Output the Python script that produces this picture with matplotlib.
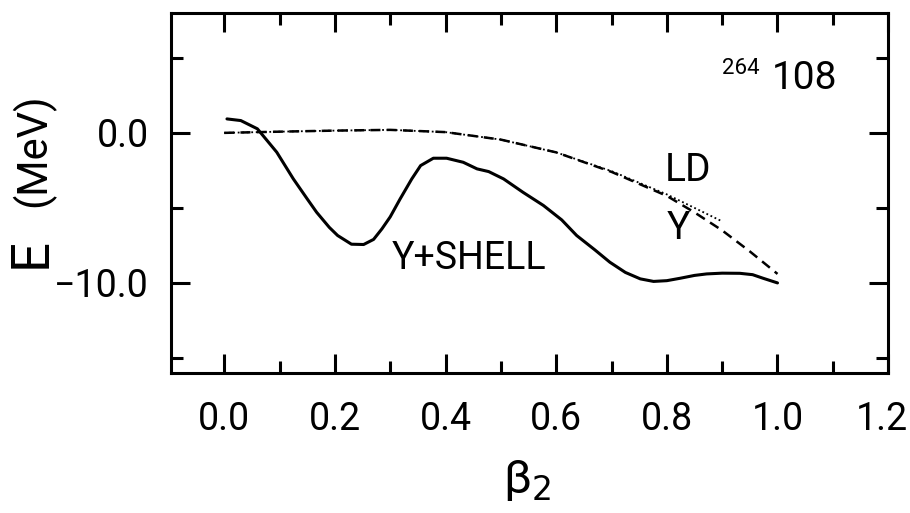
import matplotlib
matplotlib.use('Agg')
import matplotlib.pyplot as plt
import matplotlib.transforms as mtransforms

plt.rcParams['font.family'] = ['Roboto', 'DejaVu Sans']

# Y+SHELL curve (solid)
beta_shell = [0.005, 0.03, 0.06, 0.095, 0.125, 0.15, 0.167, 0.19, 0.205, 0.23, 0.252, 0.27,
              0.285, 0.3, 0.318, 0.339, 0.355, 0.378, 0.402, 0.432, 0.457, 0.478, 0.505,
              0.54, 0.577, 0.61, 0.637, 0.67, 0.697, 0.725, 0.752, 0.776, 0.8, 0.824,
              0.85, 0.872, 0.9, 0.932, 0.955, 0.974, 1.0]
e_shell = [0.93, 0.82, 0.27, -1.29, -3.07, -4.4, -5.29, -6.3, -6.84, -7.42, -7.44, -7.1,
           -6.4, -5.6, -4.4, -3.07, -2.18, -1.69, -1.69, -1.96, -2.4, -2.58, -3.07,
           -3.96, -4.84, -5.8, -6.84, -7.8, -8.62, -9.3, -9.73, -9.9, -9.85, -9.69,
           -9.5, -9.4, -9.35, -9.36, -9.45, -9.69, -10.0]

# LD curve (dashed)
beta_ld = [0.0, 0.1, 0.2, 0.3, 0.4, 0.5, 0.6, 0.7, 0.8, 0.85, 0.9, 0.95, 1.0]
e_ld = [0.0, 0.08, 0.15, 0.2, 0.05, -0.45, -1.3, -2.6, -4.2, -5.3, -6.5, -7.9, -9.4]

# Y curve (dotted)
beta_y = [0.0, 0.1, 0.2, 0.3, 0.4, 0.5, 0.6, 0.7, 0.8, 0.85, 0.9]
e_y = [0.0, 0.08, 0.15, 0.2, 0.05, -0.45, -1.3, -2.55, -4.1, -5.0, -5.9]

xticks = [0.0, 0.2, 0.4, 0.6, 0.8, 1.0, 1.2]
xtick_labels = ['0.0', '0.2', '0.4', '0.6', '0.8', '1.0', '1.2']
xminor = [0.1, 0.3, 0.5, 0.7, 0.9, 1.1]
yticks = [-10, 0]
ytick_labels = ['\u221210.0', '0.0']
yminor = [-15, -5, 5]

fig = plt.figure(figsize=(9.1, 5.13), dpi=100)
ax = fig.add_axes([0.188, 0.273, 0.788, 0.702])

ax.plot(beta_shell, e_shell, color='black', lw=2.2, solid_capstyle='round')
ax.plot(beta_ld, e_ld, color='black', lw=1.8, linestyle=(0, (4, 2.5)))
ax.plot(beta_y, e_y, color='black', lw=1.3, linestyle=(0, (1, 1.5)))

ax.set_xlim(-0.096, 1.2)
ax.set_ylim(-16, 8)

ax.set_xticks(xticks)
ax.set_xticklabels(xtick_labels)
ax.set_xticks(xminor, minor=True)
ax.set_yticks(yticks)
ax.set_yticklabels(ytick_labels)
ax.set_yticks(yminor, minor=True)

ax.tick_params(which='both', direction='in', top=True, right=True, width=2.2)
ax.tick_params(which='major', length=13.5, labelsize=27)
ax.tick_params(which='minor', length=8.5)
ax.tick_params(axis='x', which='major', pad=20)
ax.tick_params(axis='y', which='major', pad=16)
for s in ax.spines.values():
    s.set_linewidth(2.2)

# nudge the last x label so it stays inside the picture
last = ax.get_xticklabels()[-1]
last.set_transform(last.get_transform() +
                   mtransforms.ScaledTranslation(-6 / 100, 0, fig.dpi_scale_trans))

ax.text(0.90, 3.93, '264', fontsize=16, ha='left', va='baseline')
ax.text(0.99, 2.93, '108', fontsize=28, ha='left', va='baseline')
ax.text(0.797, -3.2, 'LD', fontsize=28, ha='left', va='baseline')
ax.text(0.80, -7.07, 'Y', fontsize=28, ha='left', va='baseline')
ax.text(0.303, -9.07, 'Y+SHELL', fontsize=27, ha='left', va='baseline')

fig.text(0.034, 0.507, 'E', fontsize=38, rotation=90, ha='center', va='center')
fig.text(0.036, 0.708, '(MeV)', fontsize=30, rotation=90, ha='center', va='center')
fig.text(0.579, 0.063, '\u03b2$_2$', fontsize=34, ha='center', va='center')

fig.savefig('out.png', dpi=100)
